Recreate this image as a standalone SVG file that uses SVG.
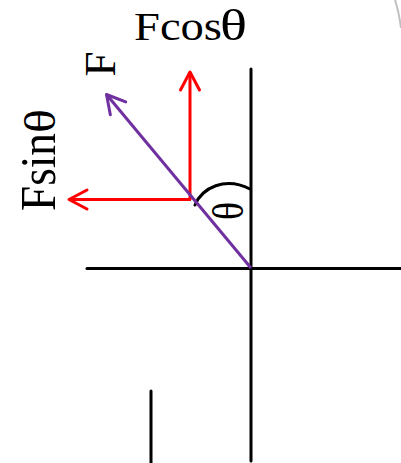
<svg xmlns="http://www.w3.org/2000/svg" width="401" height="463" viewBox="0 0 401 463">
<style>
.ax{stroke:#000;stroke-width:3;fill:none;stroke-linecap:round}
.red{stroke:#FF0000;stroke-width:3;fill:none}
.pur{stroke:#7030A0;stroke-width:3;fill:none}
.lbl{font-family:"Liberation Serif","Times New Roman",serif;fill:#000}
</style>
<defs>
<marker id="headRed" markerUnits="userSpaceOnUse" viewBox="-22 -12 24 24" markerWidth="24" markerHeight="24" refX="0" refY="0" orient="auto" overflow="visible">
<path d="M-18,-9.5 L0,0 L-18,9.5" fill="none" stroke="#FF0000" stroke-width="3" stroke-linecap="round" stroke-linejoin="round"/>
</marker>
<marker id="headPur" markerUnits="userSpaceOnUse" viewBox="-22 -12 24 24" markerWidth="24" markerHeight="24" refX="0" refY="0" orient="auto" overflow="visible">
<path d="M-18,-10 L0,0 L-18,10" fill="none" stroke="#7030A0" stroke-width="3" stroke-linecap="round" stroke-linejoin="round"/>
</marker>
</defs>
<rect width="401" height="463" fill="#fff"/>
<path d="M395,0 Q399,12 401,28" fill="none" stroke="#c0c0c0" stroke-width="2"/>
<g id="axes">
<line class="ax" x1="251" y1="69" x2="251" y2="461"/>
<line class="ax" x1="87" y1="268.5" x2="401" y2="268.5"/>
<line class="ax" x1="151" y1="391" x2="151" y2="463"/>
<path id="angle-arc" class="ax" d="M195,205 C202,188 225,176 250,189"/>
</g>
<g id="connectors">
<line class="red" x1="190" y1="200" x2="190" y2="72" marker-end="url(#headRed)"/>
<line class="red" x1="191" y1="199.5" x2="69" y2="199.5" marker-end="url(#headRed)"/>
<line class="pur" x1="251" y1="268" x2="106.5" y2="94.5" marker-end="url(#headPur)"/>
</g>
<g id="label-Fcos">
<text class="lbl" x="134" y="40" font-size="39" textLength="88" lengthAdjust="spacingAndGlyphs">Fcos</text>
<text class="lbl" x="220" y="40" font-size="43.5" textLength="27" lengthAdjust="spacingAndGlyphs">θ</text>
</g>
<g id="label-Fsin">
<text class="lbl" transform="translate(55,211) rotate(-90)" x="0" y="0" font-size="51" textLength="78" lengthAdjust="spacingAndGlyphs">Fsin</text>
<text class="lbl" transform="translate(55,133) rotate(-90)" x="0" y="0" font-size="45" textLength="24" lengthAdjust="spacingAndGlyphs">θ</text>
</g>
<g id="label-F">
<text class="lbl" transform="translate(115,76.5) rotate(-90)" x="0" y="0" font-size="45">F</text>
</g>
<g id="label-theta">
<text class="lbl" transform="translate(243,220) rotate(-90)" x="0" y="0" font-size="43.5" textLength="18" lengthAdjust="spacingAndGlyphs">θ</text>
</g>
</svg>
